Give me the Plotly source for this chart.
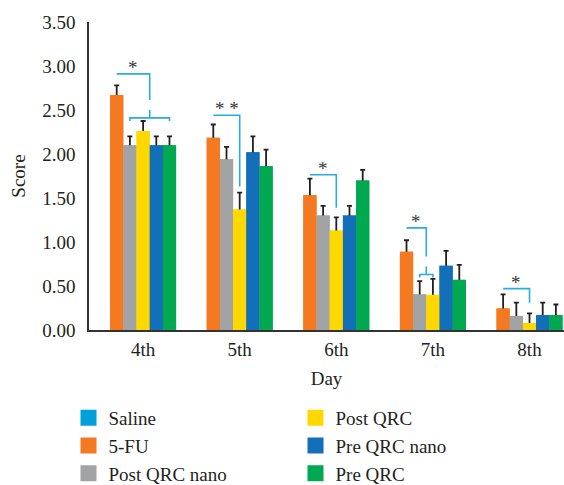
import plotly.graph_objects as go

# ---------------- data ----------------
days = ["4th", "5th", "6th", "7th", "8th"]

fu5 = [2.67, 2.185, 1.53, 0.89, 0.245]
fu5_err = [0.11, 0.15, 0.19, 0.13, 0.16]
post_nano = [2.10, 1.94, 1.30, 0.405, 0.16]
post_nano_err = [0.10, 0.14, 0.11, 0.15, 0.15]
post_qrc = [2.26, 1.37, 1.13, 0.40, 0.08]
post_qrc_err = [0.115, 0.19, 0.15, 0.18, 0.11]
pre_nano = [2.10, 2.02, 1.30, 0.73, 0.17]
pre_nano_err = [0.10, 0.18, 0.11, 0.17, 0.14]
pre_qrc = [2.10, 1.86, 1.70, 0.57, 0.17]
pre_qrc_err = [0.10, 0.19, 0.12, 0.17, 0.12]

y_ticks = [0, 0.5, 1.0, 1.5, 2.0, 2.5, 3.0, 3.5]

# significance marks (label, compared bar range in group)
sig_labels = ["*", "* *", "*", "*", "*"]
sig_targets = [("Post QRC nano", "Pre QRC"), ("Post QRC", "Post QRC"),
               ("Post QRC", "Post QRC"), ("Post QRC nano", "Post QRC"),
               ("Post QRC", "Post QRC")]

# ---------------- styles ----------------
FONT = "Liberation Serif"
TXT = "#231f20"
colors = {
    "Saline": "#00a0dc",
    "5-FU": "#f47920",
    "Post QRC nano": "#a1a3a4",
    "Post QRC": "#ffd800",
    "Pre QRC nano": "#136fb7",
    "Pre QRC": "#00a84f",
}
BRACKET = "#29abe2"
BARGAP = 0.317

# annotation placement (bracket heights in score units)
sig_top = [2.91, 2.44, 1.765, 1.16, 0.47]
sig_low = [2.41, 1.63, 1.39, 0.63, 0.31]

bar_series = [
    ("5-FU", fu5, fu5_err),
    ("Post QRC nano", post_nano, post_nano_err),
    ("Post QRC", post_qrc, post_qrc_err),
    ("Pre QRC nano", pre_nano, pre_nano_err),
    ("Pre QRC", pre_qrc, pre_qrc_err),
]
xs = list(range(len(days)))

fig = go.Figure()

# bars with (symmetric) error bars
for name, vals, errs in bar_series:
    fig.add_trace(go.Bar(
        x=xs, y=vals, name=name, offsetgroup=name, showlegend=False,
        marker=dict(color=colors[name], line=dict(width=0)),
        error_y=dict(type="data", array=errs, symmetric=True,
                     color="#231f20", thickness=1.8, width=2.5),
        hoverinfo="skip",
    ))
# same bars again on top, hiding the lower half of each error bar
for name, vals, errs in bar_series:
    fig.add_trace(go.Bar(
        x=xs, y=vals, name=name, offsetgroup=name, showlegend=False,
        marker=dict(color=colors[name], line=dict(width=0)),
        hoverinfo="skip",
    ))

# legend entries (column-major order arranged into 2 columns)
legend_order = ["Saline", "Post QRC", "5-FU", "Pre QRC nano", "Post QRC nano", "Pre QRC"]
for name in legend_order:
    fig.add_trace(go.Scatter(
        x=[None], y=[None], mode="markers", name=name,
        marker=dict(symbol="square", size=16, color=colors[name]),
    ))

# significance brackets
n = len(bar_series)
bw = (1 - BARGAP) / n
names = [s[0] for s in bar_series]


def bx(i, name):
    k = names.index(name)
    return i + (k - (n - 1) / 2) * bw


PX = 3.5 / 308.0  # score units per pixel
shapes = []
annotations = []
for i in xs:
    x0 = bx(i, "5-FU")
    a, b = sig_targets[i]
    xa, xb = bx(i, a), bx(i, b)
    xm = (xa + xb) / 2
    top, low = sig_top[i], sig_low[i]
    if a == b:
        path = f"M{x0},{top} L{xm},{top} L{xm},{low}"
    else:
        notch = 8 * PX
        gap = 10 * PX
        tick = 3 * PX
        path = (f"M{x0},{top} L{xm},{top} L{xm},{low + notch + gap} "
                f"M{xa},{low - tick} L{xa},{low} L{xb},{low} L{xb},{low - tick} "
                f"M{xm},{low} L{xm},{low + notch}")
    shapes.append(dict(type="path", path=path, xref="x", yref="y",
                       line=dict(color=BRACKET, width=1.6)))
    annotations.append(dict(x=(x0 + xm) / 2, y=top, xref="x", yref="y",
                            text=sig_labels[i], showarrow=False,
                            yanchor="bottom", yshift=-6,
                            font=dict(family=FONT, size=19, color="#333333")))

fig.update_layout(
    width=564, height=485,
    margin=dict(l=89, r=0, t=22, b=155),
    paper_bgcolor="white", plot_bgcolor="white",
    barmode="group", bargap=BARGAP, bargroupgap=0,
    font=dict(family=FONT, size=19, color=TXT),
    shapes=shapes, annotations=annotations,
    showlegend=True,
    legend=dict(orientation="h", xref="container", yref="container",
                x=68.5 / 564, y=1 - 399 / 485, xanchor="left", yanchor="top",
                entrywidth=182, entrywidthmode="pixels",
                font=dict(family=FONT, size=19, color=TXT),
                tracegroupgap=0, itemclick=False),
    xaxis=dict(range=[-0.56, 4.357], tickvals=xs, ticktext=days,
               showline=True, linecolor="#333333", linewidth=1.5,
               showgrid=False, zeroline=False, ticks="", ticklabelstandoff=1,
               automargin=False,
               title=dict(text="Day", standoff=13, font=dict(size=19))),
    yaxis=dict(range=[0, 3.5], tickvals=y_ticks, tickformat=".2f",
               showline=True, linecolor="#333333", linewidth=1.5,
               showgrid=False, zeroline=False, ticks="", ticklabelstandoff=8,
               automargin=False,
               title=dict(text="Score", standoff=12, font=dict(size=19))),
)

fig.write_html("out.html", config={"displayModeBar": False},
               post_script="document.body.style.margin='0';")
